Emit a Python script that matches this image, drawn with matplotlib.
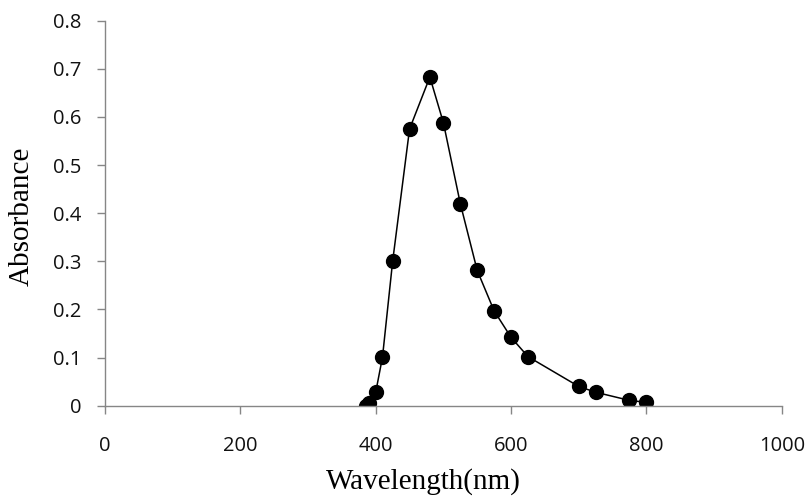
## Absorption spectrum: absorbance vs wavelength
import matplotlib.pyplot as plt

## Data

wavelength = [385, 390, 400, 410, 425, 450, 480, 500, 525, 550, 575, 600, 625, 700, 725, 775, 800]
absorbance = [0.0, 0.005, 0.028, 0.101, 0.300, 0.575, 0.683, 0.588, 0.420, 0.281, 0.197, 0.142, 0.102, 0.040, 0.028, 0.011, 0.007]

x_ticks = [0, 200, 400, 600, 800, 1000]
y_ticks = [0, 0.1, 0.2, 0.3, 0.4, 0.5, 0.6, 0.7, 0.8]

## Plot

fig = plt.figure(figsize=(8.08, 4.97), dpi=100)
ax = fig.add_axes([0.13, 0.1837, 0.8375, 0.7746])

ax.plot(wavelength, absorbance, color='black', linewidth=1.1,
        marker='o', markersize=10, markerfacecolor='black', markeredgecolor='black')

ax.set_xlim(0, 1000)
ax.set_ylim(0, 0.8)
ax.set_xticks(x_ticks)
ax.set_yticks(y_ticks)
ax.set_xticklabels([str(t) for t in x_ticks])
ax.set_yticklabels(['0'] + ['%.1f' % t for t in y_ticks[1:]])

for side in ['top', 'right']:
    ax.spines[side].set_visible(False)
for side in ['left', 'bottom']:
    ax.spines[side].set_color('#868686')
    ax.spines[side].set_linewidth(1.0)

ax.tick_params(axis='both', direction='out', length=6, width=1.0, color='#868686',
               labelsize=14.5, labelcolor='#111111')
ax.tick_params(axis='x', pad=16)
ax.tick_params(axis='y', pad=11)
for lab in ax.get_xticklabels() + ax.get_yticklabels():
    lab.set_family('Open Sans')

ax.set_xlabel('Wavelength(nm)', family='Liberation Serif', fontsize=21)
ax.xaxis.set_label_coords(0.47, -0.215)
ax.xaxis.label.set_va('baseline')
ax.set_ylabel('Absorbance', family='Liberation Serif', fontsize=21)
ax.yaxis.set_label_coords(-0.123, 0.491)
ax.yaxis.label.set_va('center')

fig.savefig('out.png', dpi=100)
